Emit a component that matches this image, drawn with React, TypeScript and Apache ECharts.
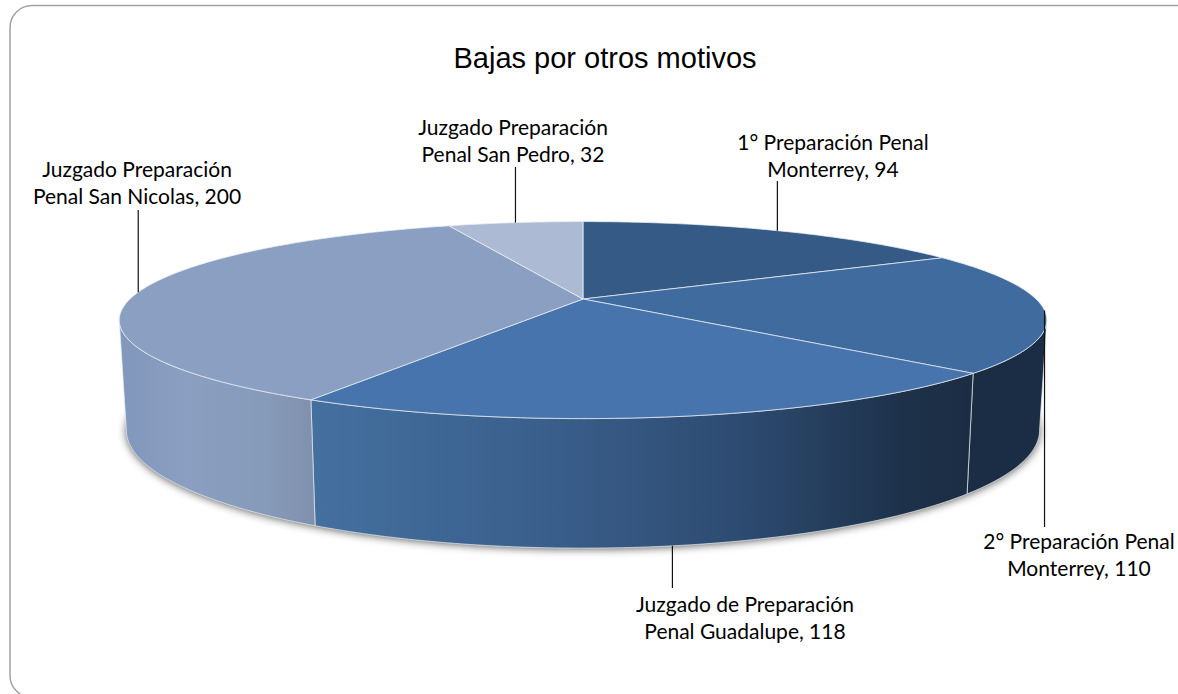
import React, { useEffect, useRef } from "react";
import * as echarts from "echarts";

const titleText = "Bajas por otros motivos";
const categories = [
  "1° Preparación Penal\nMonterrey",
  "2° Preparación Penal\nMonterrey",
  "Juzgado de Preparación\nPenal Guadalupe",
  "Juzgado Preparación\nPenal San Nicolas",
  "Juzgado Preparación\nPenal San Pedro",
];
const values = [94, 110, 118, 200, 32];
const topColors = ["#365a86", "#3f6b9e", "#4774ac", "#8a9fc1", "#acbad3"];

// Layout only: projection of the pie disc and label placement
const CX = 583;
const TOP_CY = 299;
const TOP_A = 453;
const TOP_B = 94;
const BOT_CY = 405;
const BOT_A = 446;
const BOT_B = 112.5;
const PERSP = 0.214;
const labelCenters = [
  [833, 155],
  [1079, 554],
  [745, 617],
  [137, 182],
  [513, 140],
];
const leaderEnds = [181, 527, 588, 210, 167];
const leaderFromBottom = [false, false, true, false, false];

const total = values.reduce((a, b) => a + b, 0);
const startAngle = (i: number) =>
  (values.slice(0, i).reduce((a, b) => a + b, 0) / total) * Math.PI * 2;

const proj = (t: number, bottom = false): number[] => {
  const u = Math.sin(t);
  const v = -Math.cos(t);
  const w = 1 - PERSP * v;
  return bottom
    ? [CX + (BOT_A * u) / w, BOT_CY + (BOT_B * v) / w]
    : [CX + (TOP_A * u) / w, TOP_CY + (TOP_B * v) / w];
};

const arc = (a: number, b: number, bottom = false) => {
  const n = Math.max(2, Math.ceil(Math.abs(b - a) / 0.015));
  const pts: number[][] = [];
  for (let i = 0; i <= n; i++) pts.push(proj(a + ((b - a) * i) / n, bottom));
  return pts;
};

const VIS_A = Math.acos(-PERSP);
const VIS_B = Math.PI * 2 - VIS_A;

const side3 = () =>
  new echarts.graphic.LinearGradient(0, 0, 1, 0, [
    { offset: 0, color: "#44709f" },
    { offset: 0.35, color: "#3a5f8c" },
    { offset: 0.65, color: "#2d4b71" },
    { offset: 0.9, color: "#1d3149" },
    { offset: 1, color: "#1b2d44" },
  ]);
const side4 = () =>
  new echarts.graphic.LinearGradient(0, 0, 1, 0, [
    { offset: 0, color: "#8197bb" },
    { offset: 0.35, color: "#8a9fc1" },
    { offset: 0.75, color: "#869ab9" },
    { offset: 1, color: "#7f90ac" },
  ]);
const sideFills: Record<number, () => any> = {
  1: () => "#1b2d44",
  2: side3,
  3: side4,
};

export default function App() {
  const ref = useRef<HTMLDivElement>(null);
  useEffect(() => {
    const chart = echarts.init(ref.current!, undefined, { renderer: "svg" });
    const rows = values.map((v) => [v]);
    chart.setOption({
      animation: false,
      backgroundColor: "#ffffff",
      title: {
        text: titleText,
        left: 600,
        top: 38,
        textAlign: "center",
        textStyle: {
          fontFamily: "Liberation Sans",
          fontSize: 29,
          fontWeight: "normal",
          color: "#000000",
        },
      },
      graphic: [
        {
          type: "rect",
          z: -1,
          shape: { x: 10, y: 5.5, width: 1300, height: 692, r: 22 },
          style: { fill: "#ffffff", stroke: "#a3a3a3", lineWidth: 1.5 },
        },
      ],
      series: [
        {
          type: "custom",
          coordinateSystem: "none",
          z: 2,
          data: [[0]],
          renderItem: () => ({
            type: "polygon",
            shape: { points: arc(0, Math.PI * 2, true) },
            style: {
              fill: "#888888",
              shadowColor: "rgba(0,0,0,0.65)",
              shadowBlur: 9,
              shadowOffsetX: 0,
              shadowOffsetY: 1,
            },
          }),
        },
        {
          type: "custom",
          coordinateSystem: "none",
          z: 3,
          data: rows,
          renderItem: (params: any) => {
            const i = params.dataIndex;
            const a = Math.max(startAngle(i), VIS_A);
            const b = Math.min(startAngle(i + 1), VIS_B);
            if (b <= a) return { type: "group", children: [] };
            return {
              type: "polygon",
              shape: { points: [...arc(a, b), ...arc(b, a, true)] },
              style: {
                fill: (sideFills[i] || (() => topColors[i]))(),
                stroke: "rgba(230,235,240,0.7)",
                lineWidth: 1,
              },
            };
          },
        },
        {
          type: "custom",
          coordinateSystem: "none",
          z: 4,
          data: rows,
          renderItem: (params: any) => {
            const i = params.dataIndex;
            const a = startAngle(i);
            const b = startAngle(i + 1);
            return {
              type: "polygon",
              shape: { points: [[CX, TOP_CY], ...arc(a, b)] },
              style: {
                fill: topColors[i],
                stroke: "rgba(235,240,245,0.75)",
                lineWidth: 1,
              },
            };
          },
        },
        {
          type: "custom",
          coordinateSystem: "none",
          z: 5,
          data: rows,
          renderItem: (params: any) => {
            const i = params.dataIndex;
            const mid = (startAngle(i) + startAngle(i + 1)) / 2;
            const [x, y] = proj(mid, leaderFromBottom[i]);
            const [lx, ly] = labelCenters[i];
            return {
              type: "group",
              children: [
                {
                  type: "line",
                  shape: { x1: x, y1: y, x2: x, y2: leaderEnds[i] },
                  style: { stroke: "#111111", lineWidth: 1.2 },
                },
                {
                  type: "text",
                  style: {
                    text: `${categories[i]}, ${values[i]}`,
                    x: lx,
                    y: ly,
                    align: "center",
                    verticalAlign: "middle",
                    textAlign: "center",
                    textVerticalAlign: "middle",
                    fontFamily: "Lato",
                    fontSize: 21,
                    lineHeight: 27,
                    fill: "#000000",
                  },
                },
              ],
            };
          },
        },
      ],
    });
    return () => chart.dispose();
  }, []);
  return (
    <div
      ref={ref}
      style={{ position: "fixed", left: 0, top: 0, width: 1178, height: 694 }}
    />
  );
}
